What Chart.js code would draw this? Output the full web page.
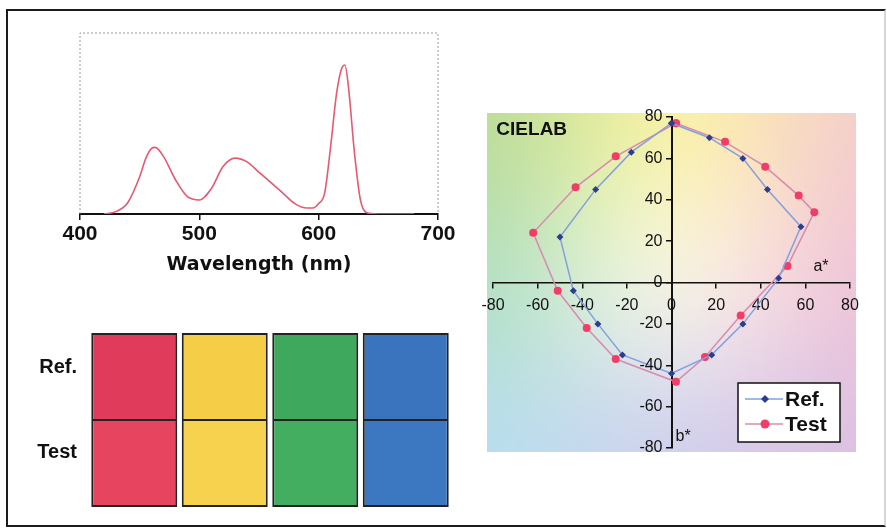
<!DOCTYPE html>
<html>
<head>
<meta charset="utf-8">
<script src="https://cdn.jsdelivr.net/npm/chart.js@4.4.1/dist/chart.umd.min.js"></script>
<style>
  html, body { margin: 0; padding: 0; background: #fff; }
  #frame { position: absolute; left: 6px; top: 9px; width: 876px; height: 514px; border: 2px solid #1c1c1c; border-right-color: #d6d6d6; }
  .box { position: absolute; }
  #spectrumBox { left: 56px; top: 29px; width: 406px; height: 247px; }
  #swatchBox { left: 20px; top: 317px; width: 431px; height: 206px; }
  #labBox { left: 473px; top: 97px; width: 397px; height: 371px; }
</style>
</head>
<body>
<div id="frame"></div>
<div class="box" id="spectrumBox"><canvas id="spectrum"></canvas></div>
<div class="box" id="swatchBox"><canvas id="swatches"></canvas></div>
<div class="box" id="labBox"><canvas id="cielab"></canvas></div>
<script>
// spectrum (relative intensity, peak = 1)
const wavelengths = [420, 430, 440, 450, 455, 460, 463, 470, 480, 490, 500, 510, 520, 530, 540, 550, 560, 570, 580, 590, 595, 600, 605, 610, 615, 620, 622, 625, 630, 635, 640, 650, 660, 670, 680]
const intensity   = [0, 0.016, 0.076, 0.25, 0.37, 0.44, 0.447, 0.385, 0.23, 0.116, 0.094, 0.17, 0.32, 0.375, 0.35, 0.28, 0.21, 0.14, 0.07, 0.04, 0.04, 0.07, 0.14, 0.45, 0.81, 0.99, 1.0, 0.85, 0.41, 0.094, 0.01, 0, 0, 0, 0]

// colour swatches
const swatchNames = ['Red', 'Yellow', 'Green', 'Blue']
const rowLabels = ['Test', 'Ref.']
const refValues = [1, 1, 1, 1]
const testValues = [1, 1, 1, 1]
const refColors = ['#e13b5b', '#f5cd46', '#3ea95c', '#3a74bf']
const testColors = ['#e6445f', '#f6d24f', '#43ad60', '#3c77c2']

// CIELAB a*, b*
const refA  = [0, 17, 32, 43, 58, 48, 32, 18, 0, -22, -33, -44, -50, -34, -18]
const refB  = [77, 70, 60, 45, 27, 2, -20, -35, -44, -35, -20, -4, 22, 45, 63]
const testA = [2, 24, 42, 57, 64, 52, 31, 15, 2, -25, -38, -51, -62, -43, -25]
const testB = [77, 68, 56, 42, 34, 8, -16, -36, -48, -37, -22, -4, 24, 46, 61]

Chart.defaults.font.family = '"Liberation Sans", Arial, sans-serif'
Chart.defaults.color = '#111'
Chart.defaults.animation = false

const closedLoop = (xs, ys) => {
  const pts = xs.map((x, i) => ({ x: x, y: ys[i] }))
  pts.push(pts[0])
  return pts
}

// ---------- spectrum ----------
const dottedFrame = {
  id: 'dottedFrame',
  beforeDatasetsDraw (chart) {
    const { ctx, chartArea: a } = chart
    ctx.save()
    ctx.strokeStyle = '#9c9c9c'
    ctx.lineWidth = 1
    ctx.setLineDash([2, 2])
    ctx.beginPath()
    ctx.moveTo(a.left, a.bottom)
    ctx.lineTo(a.left, a.top)
    ctx.lineTo(a.right, a.top)
    ctx.lineTo(a.right, a.bottom)
    ctx.stroke()
    ctx.restore()
  }
}

new Chart(document.getElementById('spectrum'), {
  type: 'line',
  data: {
    datasets: [{
      data: wavelengths.map((w, i) => ({ x: w, y: intensity[i] })),
      borderColor: '#e55a72',
      borderWidth: 1.6,
      pointRadius: 0,
      cubicInterpolationMode: 'monotone',
      fill: false
    }]
  },
  options: {
    responsive: true,
    maintainAspectRatio: false,
    layout: { padding: { left: 24, right: 24, top: 4, bottom: 0 } },
    plugins: { legend: { display: false }, tooltip: { enabled: false } },
    scales: {
      x: {
        type: 'linear',
        min: 400,
        max: 700,
        ticks: { stepSize: 100, padding: 2, font: { size: 21, weight: 'bold' }, color: '#111' },
        grid: { drawOnChartArea: false, tickLength: 6, color: '#111', lineWidth: 1.5 },
        border: { color: '#111', width: 2 },
        title: { display: true, text: 'Wavelength (nm)', padding: 0, color: '#111', font: { family: '"DejaVu Sans"', size: 19, weight: 'bold' } },
        afterFit: (scale) => { scale.height = 62 }
      },
      y: { display: false, min: 0, max: 1.215 }
    }
  },
  plugins: [dottedFrame]
})

// ---------- swatches ----------
new Chart(document.getElementById('swatches'), {
  type: 'bar',
  data: {
    labels: swatchNames,
    datasets: [
      { label: 'Test', data: testValues, backgroundColor: testColors, borderColor: '#222', borderSkipped: false, borderWidth: { top: 1, left: 2, right: 2, bottom: 2 } },
      { label: 'Ref.', data: refValues, backgroundColor: refColors, borderColor: '#222', borderSkipped: false, borderWidth: { top: 2, left: 2, right: 2, bottom: 1 } }
    ]
  },
  options: {
    responsive: true,
    maintainAspectRatio: false,
    layout: { padding: 0 },
    plugins: { legend: { display: false }, tooltip: { enabled: false } },
    datasets: { bar: { barPercentage: 0.95, categoryPercentage: 1 } },
    scales: {
      x: { display: false, stacked: true },
      y: {
        stacked: true,
        min: 0,
        max: 2,
        grid: { display: false },
        border: { display: false },
        afterBuildTicks: (scale) => { scale.ticks = [{ value: 0.63 }, { value: 1.6 }] },
        afterFit: (scale) => { scale.width = 69 },
        ticks: {
          padding: 4,
          font: { size: 20, weight: 'bold' },
          color: '#111',
          callback: (v, i) => rowLabels[i]
        }
      }
    }
  }
})

// ---------- CIELAB ----------
const labBackground = {
  id: 'labBackground',
  beforeDraw (chart) {
    const { ctx, chartArea: a } = chart
    const g = document.createElement('canvas')
    g.width = 3
    g.height = 3
    const gc = g.getContext('2d')
    const cols = [
      ['#bcdc96', '#faf3a2', '#f5cfcb'],
      ['#b2e0c2', '#f8f6e6', '#efc4d8'],
      ['#b8def0', '#cfd0ee', '#dcc0e2']
    ]
    cols.forEach((row, r) => row.forEach((c, k) => { gc.fillStyle = c; gc.fillRect(k, r, 1, 1) }))
    ctx.save()
    ctx.imageSmoothingEnabled = true
    ctx.imageSmoothingQuality = 'high'
    ctx.drawImage(g, 0.5, 0.5, 2, 2, a.left - 6, a.top - 4, a.width + 12, a.height + 8)
    ctx.restore()
  },
  afterDatasetsDraw (chart) {
    const { ctx, scales: { x, y } } = chart
    const axisX = x.getPixelForValue(0)
    ctx.save()
    ctx.fillStyle = '#111'
    // y tick labels, left of the centred axis
    ctx.font = '16px "Liberation Sans"'
    ctx.textAlign = 'right'
    ctx.textBaseline = 'middle'
    y.ticks.forEach((t) => {
      ctx.fillText(String(t.value), axisX - 9, y.getPixelForValue(t.value))
    })
    ctx.textAlign = 'left'
    ctx.font = 'bold 19px "Liberation Sans"'
    ctx.fillText('CIELAB', x.getPixelForValue(-78.5), y.getPixelForValue(74))
    ctx.font = '16px "Liberation Sans"'
    ctx.textAlign = 'center'
    ctx.fillText('a*', x.getPixelForValue(67), y.getPixelForValue(7.5))
    ctx.textAlign = 'left'
    ctx.fillText('b*', x.getPixelForValue(1.8), y.getPixelForValue(-74.5))
    ctx.restore()
  }
}

const labLegend = {
  id: 'labLegend',
  afterDraw (chart) {
    const { ctx, chartArea: a } = chart
    const w = 102, h = 59
    const x = a.right - 10 - w
    const y = a.bottom - 6 - h
    ctx.save()
    ctx.fillStyle = '#fff'
    ctx.fillRect(x, y, w, h)
    ctx.strokeStyle = '#111'
    ctx.lineWidth = 1.5
    ctx.strokeRect(x, y, w, h)
    chart.data.datasets.forEach((ds, i) => {
      const cy = y + 16 + i * 25
      ctx.strokeStyle = ds.borderColor
      ctx.lineWidth = 1.5
      ctx.beginPath()
      ctx.moveTo(x + 7, cy)
      ctx.lineTo(x + 45, cy)
      ctx.stroke()
      ctx.fillStyle = ds.pointBackgroundColor
      ctx.beginPath()
      const mx = x + 27
      const r = ds.pointRadius + 0.5
      if (ds.pointStyle === 'rectRot') {
        ctx.moveTo(mx, cy - r); ctx.lineTo(mx + r, cy); ctx.lineTo(mx, cy + r); ctx.lineTo(mx - r, cy)
        ctx.closePath()
      } else {
        ctx.arc(mx, cy, r, 0, Math.PI * 2)
      }
      ctx.fill()
      ctx.fillStyle = '#111'
      ctx.font = 'bold 21px "Liberation Sans"'
      ctx.textBaseline = 'middle'
      ctx.fillText(ds.label, x + 47, cy + 1)
    })
    ctx.restore()
  }
}

new Chart(document.getElementById('cielab'), {
  type: 'scatter',
  data: {
    datasets: [
      {
        label: 'Ref.',
        data: closedLoop(refA, refB),
        showLine: true,
        borderColor: '#86a0dc',
        borderWidth: 1.5,
        pointStyle: 'rectRot',
        pointRadius: 3.5,
        pointBackgroundColor: '#2c3d8f',
        pointBorderColor: '#2c3d8f',
        pointBorderWidth: 0
      },
      {
        label: 'Test',
        data: closedLoop(testA, testB),
        showLine: true,
        borderColor: '#d68cb0',
        borderWidth: 1.5,
        pointStyle: 'circle',
        pointRadius: 4,
        pointBackgroundColor: '#f23d66',
        pointBorderColor: '#f23d66',
        pointBorderWidth: 0
      }
    ]
  },
  options: {
    responsive: true,
    maintainAspectRatio: false,
    layout: { padding: 20 },
    plugins: { legend: { display: false }, tooltip: { enabled: false } },
    scales: {
      x: {
        min: -80,
        max: 80,
        position: { y: 0 },
        ticks: { stepSize: 20, padding: 8, font: { size: 16 }, color: '#111' },
        grid: { drawOnChartArea: false, tickLength: 5, color: '#111', lineWidth: 1.5 },
        border: { color: '#111', width: 1.5 }
      },
      y: {
        min: -80,
        max: 80,
        position: { x: 0 },
        ticks: { stepSize: 20, display: false },
        grid: { drawOnChartArea: false, tickLength: 5, color: '#111', lineWidth: 1.5 },
        border: { color: '#111', width: 2 }
      }
    }
  },
  plugins: [labBackground, labLegend]
})
</script>
</body>
</html>
